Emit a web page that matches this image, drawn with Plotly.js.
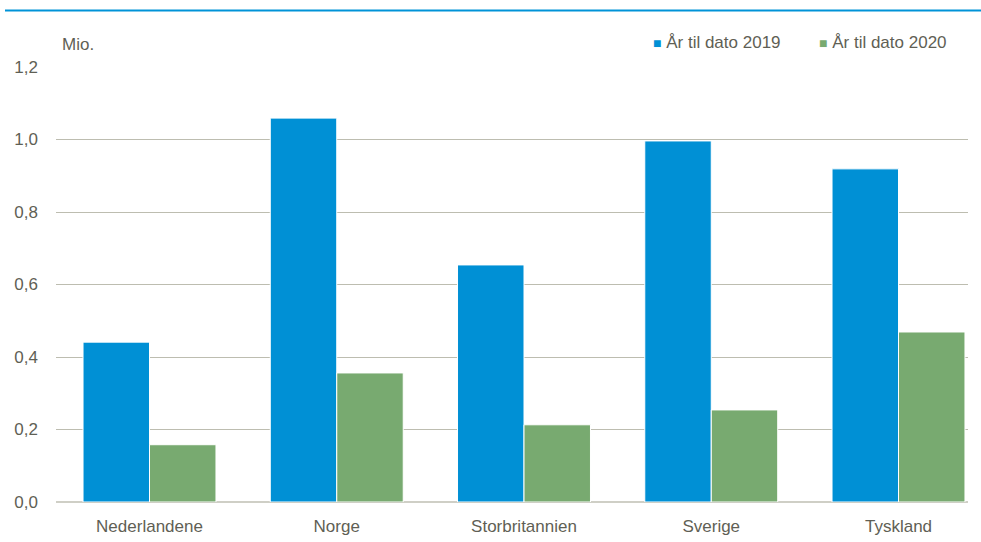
<!DOCTYPE html>
<html>
<head>
<meta charset="utf-8">
<script src="https://cdn.plot.ly/plotly-3.0.1.min.js"></script>
<style>html,body{margin:0;padding:0;background:#fff;}#chart{width:981px;height:542px;}</style>
</head>
<body>
<div id="chart"></div>
<script>
var categories = ["Nederlandene", "Norge", "Storbritannien", "Sverige", "Tyskland"];
var series2019 = [0.441, 1.059, 0.654, 0.996, 0.919];
var series2020 = [0.158, 0.356, 0.213, 0.254, 0.469];
var seriesNames = ["År til dato 2019", "År til dato 2020"];
var seriesColors = ["#0090d5", "#78aa70"];
var yTickVals = [0, 0.2, 0.4, 0.6, 0.8, 1.0, 1.2];
var yTickText = ["0,0", "0,2", "0,4", "0,6", "0,8", "1,0", "1,2"];

var W = 981, H = 542, L = 56, R = 13, T = 67, B = 40;
var pw = W - L - R, ph = H - T - B;
var textColor = "#5f5f55";
var font = "Liberation Sans, Arial, sans-serif";
var fs = 17;

var traces = [
  {type: "bar", name: seriesNames[0], x: categories, y: series2019, showlegend: false,
   marker: {color: seriesColors[0], line: {color: "#ffffff", width: 1}}},
  {type: "bar", name: seriesNames[1], x: categories, y: series2020, showlegend: false,
   marker: {color: seriesColors[1], line: {color: "#ffffff", width: 1}}}
];

// category spacing in the reference is ~187 px while the grid spans 912 px
var catPx = 187.25;
var x0 = -(149.5 - L) / catPx;
var x1 = x0 + pw / catPx;

var legendX = [651, 817];
var annotations = [
  {xref: "paper", yref: "paper", x: (60 - L) / pw, y: (H - B - 45) / ph,
   xanchor: "left", yanchor: "middle", text: "Mio.", showarrow: false,
   font: {family: font, size: fs, color: textColor}}
];
seriesNames.forEach(function (n, i) {
  annotations.push({xref: "paper", yref: "paper", x: (legendX[i] - L) / pw, y: (H - B - 43) / ph,
    xanchor: "left", yanchor: "middle", showarrow: false,
    text: '<span style="color:' + seriesColors[i] + ';font-size:14px">■</span> ' + n,
    font: {family: font, size: fs, color: textColor}});
});

var layout = {
  width: W, height: H,
  margin: {l: L, r: R, t: T, b: B, pad: 0},
  paper_bgcolor: "#ffffff", plot_bgcolor: "#ffffff",
  font: {family: font, size: fs, color: textColor},
  barmode: "group", bargap: 0.29, bargroupgap: 0,
  showlegend: false,
  xaxis: {range: [x0, x1], showgrid: false, showline: false, ticks: "", zeroline: false,
          ticklabelstandoff: 12,
          tickfont: {family: font, size: fs, color: textColor}},
  yaxis: {range: [0, 1.2], tickvals: yTickVals, ticktext: yTickText,
          showgrid: true, gridcolor: "#bdbdb0", gridwidth: 1,
          zeroline: true, zerolinecolor: "#cfcfc6", zerolinewidth: 2,
          showline: false, ticks: "", ticklabelstandoff: 17,
          tickfont: {family: font, size: fs, color: textColor}},
  annotations: annotations,
  shapes: [
    {type: "line", xref: "paper", yref: "paper",
     x0: (5 - L) / pw, x1: (W - L) / pw, y0: (H - B - 10.5) / ph, y1: (H - B - 10.5) / ph,
     line: {color: "#0093d8", width: 2}}
  ]
};

Plotly.newPlot("chart", traces, layout, {displayModeBar: false, staticPlot: true});
</script>
</body>
</html>
